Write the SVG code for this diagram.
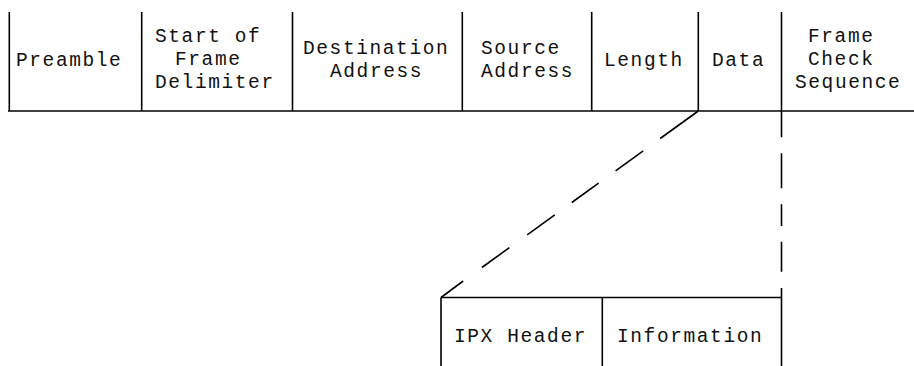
<svg xmlns="http://www.w3.org/2000/svg" width="914" height="366" viewBox="0 0 914 366">
<style>
.ln{stroke:#000;stroke-width:1.6;fill:none}
.ds{stroke:#000;stroke-width:1.6;fill:none}
.t{font-family:"Liberation Mono","Courier New",monospace;font-size:19.5px;letter-spacing:1.6px;fill:#111}
</style>
<rect width="914" height="366" fill="#fff"/>
<g id="frame-lines">
<line class="ln" x1="8" y1="111" x2="914" y2="111"/>
<line class="ln" x1="9.3" y1="12" x2="9.3" y2="111"/>
<line class="ln" x1="141.7" y1="12" x2="141.7" y2="111"/>
<line class="ln" x1="292.5" y1="12" x2="292.5" y2="111"/>
<line class="ln" x1="462.3" y1="12" x2="462.3" y2="111"/>
<line class="ln" x1="591.7" y1="12" x2="591.7" y2="111"/>
<line class="ln" x1="698.3" y1="12" x2="698.3" y2="111"/>
<line class="ln" x1="781.5" y1="12" x2="781.5" y2="111"/>
</g>
<g id="preamble"><text class="t" x="16" y="66">Preamble</text></g>
<g id="sfd"><text class="t" x="155" y="42">Start of</text><text class="t" x="175" y="65">Frame</text><text class="t" x="155" y="88">Delimiter</text></g>
<g id="dest"><text class="t" x="303" y="53.5">Destination</text><text class="t" x="330" y="76.5">Address</text></g>
<g id="src"><text class="t" x="481" y="53.5">Source</text><text class="t" x="481" y="76.5">Address</text></g>
<g id="length"><text class="t" x="604" y="66">Length</text></g>
<g id="data"><text class="t" x="712" y="66">Data</text></g>
<g id="fcs"><text class="t" x="808" y="42">Frame</text><text class="t" x="808" y="65">Check</text><text class="t" x="795" y="88">Sequence</text></g>
<g id="ipx-frame">
<line class="ln" x1="441" y1="297.5" x2="781.5" y2="297.5"/>
<line class="ln" x1="441" y1="297.5" x2="441" y2="366"/>
<line class="ln" x1="602.3" y1="297.5" x2="602.3" y2="366"/>
<line class="ln" x1="781.5" y1="288" x2="781.5" y2="366"/>
</g>
<g id="ipx-header"><text class="t" x="454" y="342">IPX Header</text></g>
<g id="information"><text class="t" x="617" y="342">Information</text></g>
<g id="connectors">
<path class="ds" d="M698.3,111 L660.2,138.5 M643.2,150.8 L615.6,170.8 M598.6,183.1 L571.8,202.5 M554.8,214.8 L527.2,234.8 M509.4,247.6 L481.9,267.5 M463.2,281 L441,297.5"/>
<path class="ds" d="M781.5,111 V137.3 M781.5,153.3 V188.3 M781.5,204.3 V226 M781.5,241.7 V271.7"/>
</g>
</svg>
